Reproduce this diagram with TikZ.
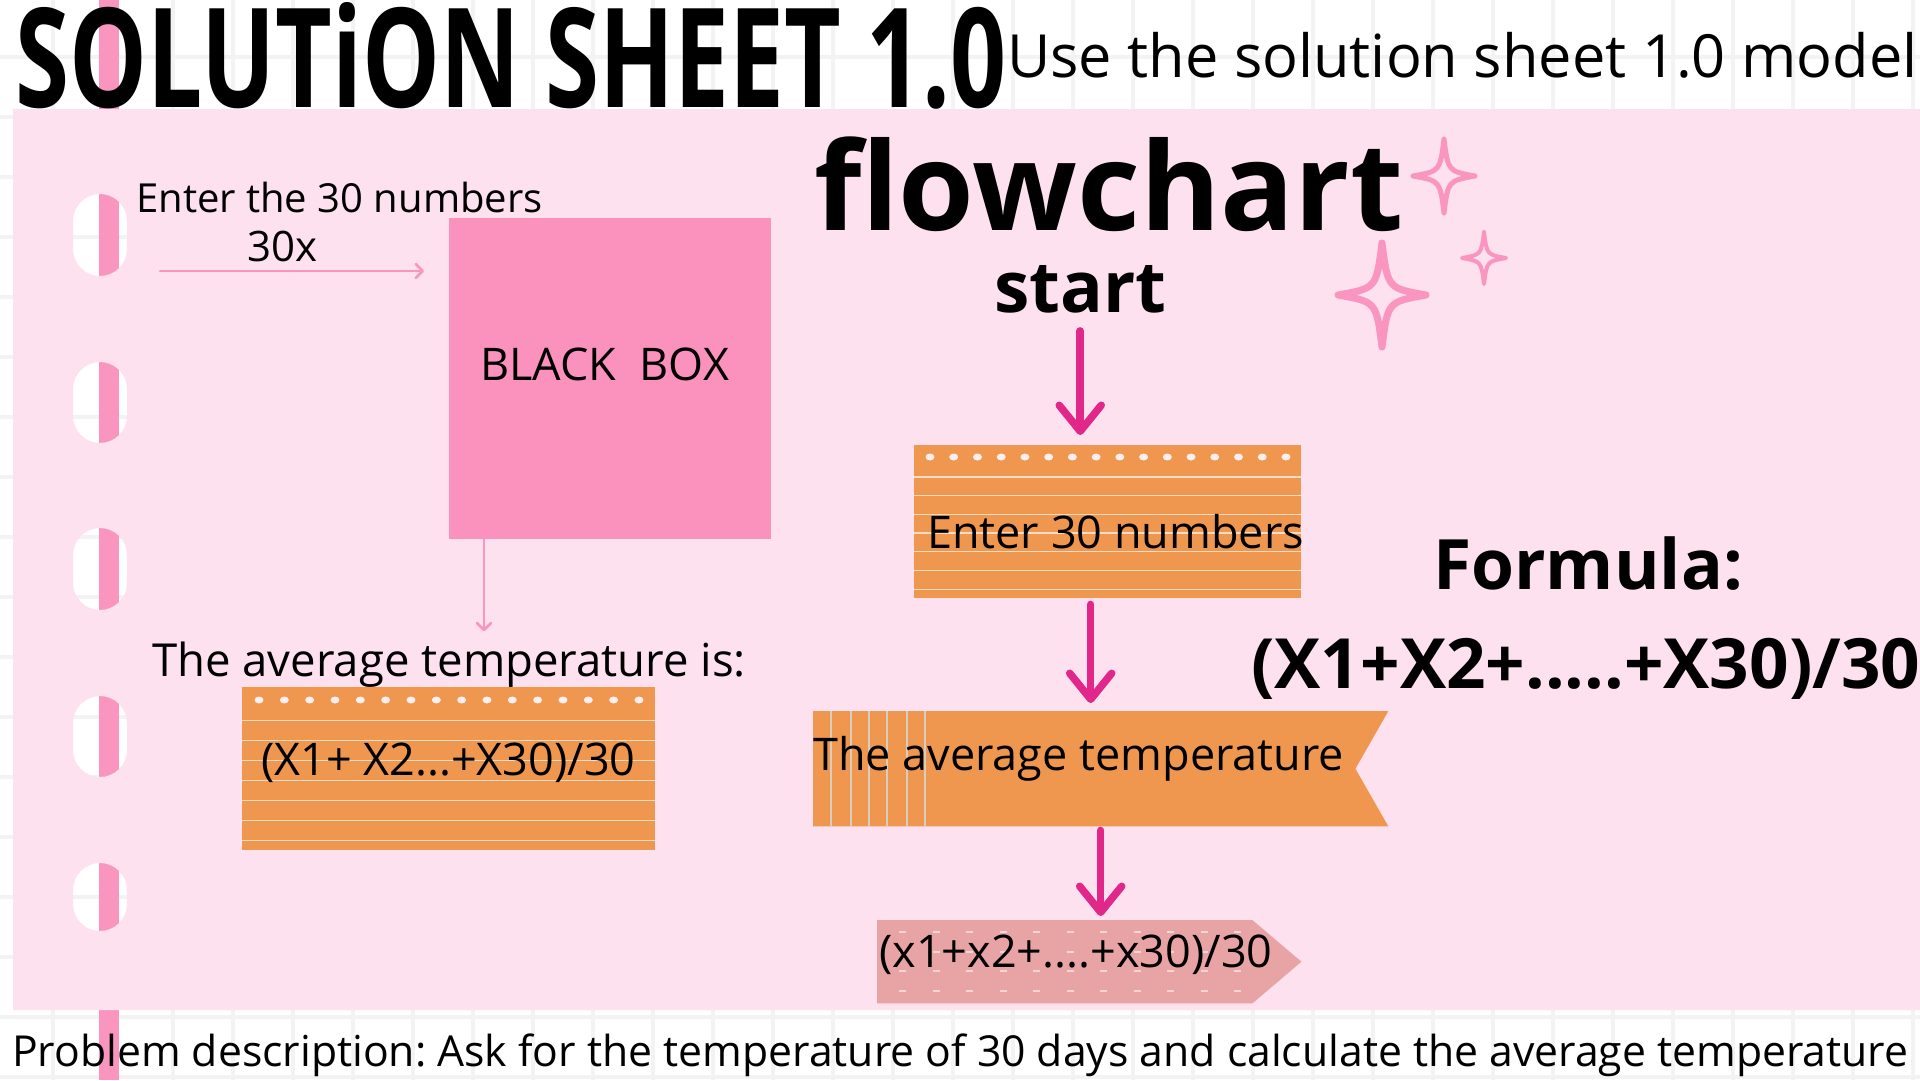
\documentclass[tikz,border=0pt]{standalone}
\usepackage{fontspec}
\setmainfont{Open Sans}
\usepackage{graphicx}
\usetikzlibrary{arrows.meta,calc}
\frenchspacing
\definecolor{panelpink}{HTML}{FDE1EE}
\definecolor{stripepink}{HTML}{F995BF}
\definecolor{boxpink}{HTML}{FB91BD}
\definecolor{cardorange}{HTML}{F0974F}
\definecolor{linecream}{HTML}{FBDCC4}
\definecolor{dotwhite}{HTML}{FDEEF2}
\definecolor{arrowmag}{HTML}{E2278B}
\definecolor{sumpink}{HTML}{E8A4A4}
\definecolor{gridgrey}{HTML}{F3F3F3}
\definecolor{vlinecol}{HTML}{D9CDBE}
\newcommand\sparkle[5]{%
  \draw[draw=stripepink, line width=#5, line join=round, line cap=round]
   (#1,#2-#4) .. controls (#1+0.13*#3,#2-0.13*#4) .. (#1+#3,#2)
   .. controls (#1+0.13*#3,#2+0.13*#4) .. (#1,#2+#4)
   .. controls (#1-0.13*#3,#2+0.13*#4) .. (#1-#3,#2)
   .. controls (#1-0.13*#3,#2-0.13*#4) .. (#1,#2-#4);}
\begin{document}
\begin{tikzpicture}[x=1pt,y=-1pt,
  txt/.style={inner sep=0pt, anchor=base west, text=black},
  card/.style={fill=cardorange, inner sep=0pt, anchor=north west},
  thinarrow/.style={draw=stripepink, line width=2.5pt, line cap=round, -{Straight Barb[round,length=7pt,width=14pt]}},
  flowarrow/.style={draw=arrowmag, line width=7.5pt, line cap=round, -{Straight Barb[round,length=26pt,width=42pt]}},
  cardline/.style={draw=linecream, line width=1.3pt},
  regular/.style={font=\fontsize{45}{50}\selectfont},
]
\useasboundingbox (0,0) rectangle (1920,1080);
\fill[white] (0,0) rectangle (1920,1080);
% grid
\foreach \x in {53,113,...,1913} \draw[gridgrey, line width=4pt] (\x,0) -- (\x,1080);
\foreach \y in {57,117,...,1077} \draw[gridgrey, line width=4pt] (0,\y) -- (1920,\y);
% binder stripe
\fill[stripepink] (99,0) rectangle (119,1080);
% panel with holes
\fill[panelpink, even odd rule] (13,109) rectangle (1920,1010)
  [rounded corners=27pt] (73,194) rectangle (127,276) (73,362) rectangle (127,443)
  (73,528) rectangle (127,610) (73,696) rectangle (127,777) (73,863) rectangle (127,931);
% title
\node[inner sep=0pt, anchor=north west] (title) at (15,2) {\resizebox{991pt}{105pt}{\bfseries SOLUTiON SHEET 1.0}};
\node[txt] (model) at (1007,77) {\fontsize{59.5}{60}\selectfont Use the solution sheet 1.0 model};
% sparkles
\sparkle{1444}{176}{31}{37}{5pt}
\sparkle{1484}{258}{22}{26}{4pt}
\sparkle{1382}{295}{44}{52}{7pt}
% left side: black box model
\node[txt, font=\fontsize{40}{44}\selectfont] (enterlbl) at (136,212) {Enter the 30 numbers};
\node[txt, font=\fontsize{42}{44}\selectfont] (thirty) at (247,261) {30x};
\node[fill=boxpink, inner sep=0pt, minimum width=322pt, minimum height=321pt, anchor=north west] (bb) at (449,218) {};
\node[txt, regular] (bbtxt) at (480,380) {BLACK\ \ BOX};
\coordinate (inA) at (160,271);
\draw[thinarrow, shorten >=25pt] (inA) -- (inA -| bb.west);
\node[txt, font=\fontsize{45.5}{50}\selectfont] (avg) at (152,676) {The average temperature is:};
\coordinate (outx) at (484,0);
\draw[thinarrow, shorten >=10pt] (bb.south -| outx) -- (avg.north -| outx);
% result card
\node[card, minimum width=413pt, minimum height=163pt] (res) at (242,687) {};
\foreach \i in {0,...,15} \fill[dotwhite] ({259+25.33*\i},700) ellipse [x radius=4.5pt, y radius=3.5pt];
\foreach \i in {0,...,6} \draw[cardline] (242,{720.7+20*\i}) -- (655,{720.7+20*\i});
\node[txt, regular] (restxt) at (261,775) {(X1+ X2...+X30)/30};
% flowchart
\node[txt, font=\fontsize{122.5}{124}\selectfont\bfseries] (fc) at (814,230) {flowchart};
\node[txt, font=\fontsize{71}{71}\selectfont\bfseries] (start) at (994,312) {start};
\node[card, minimum width=387pt, minimum height=153pt] (enter) at (914,445) {};
\foreach \i in {0,...,15} \fill[dotwhite] ({930+23.73*\i},457) ellipse [x radius=4.5pt, y radius=3.5pt];
\foreach \i in {0,...,6} \draw[cardline] (914,{477+18.7*\i}) -- (1301,{477+18.7*\i});
\node[txt, regular] (entertxt) at (927,548) {Enter 30 numbers};
% banner
\node[inner sep=0pt, minimum width=575pt, minimum height=115pt, anchor=north west] (ban) at (813,711) {};
\fill[cardorange] (ban.north west) -- (ban.north east) -- ($(ban.east)+(-33,0)$) -- (ban.south east) -- (ban.south west) -- cycle;
\foreach \x in {831,851,869,887,907,925} \draw[vlinecol, line width=1.5pt] (\x,711) -- (\x,826);
\node[txt, regular] (bantxt) at (813,770) {The average temperature};
% sum box
\node[inner sep=0pt, minimum width=424pt, minimum height=83pt, anchor=north west] (sum) at (877,920) {};
\fill[sumpink] (sum.north west) -- ($(sum.north east)+(-49,0)$) -- (sum.east) -- ($(sum.south east)+(-49,0)$) -- (sum.south west) -- cycle;
\foreach \y in {932,952,971,991} \foreach \i in {0,...,10} \draw[white, opacity=0.55, line width=1.5pt] ({899+33.5*\i},\y) -- ({906+33.5*\i},\y);
\node[txt, regular] (sumtxt) at (879,967) {(x1+x2+....+x30)/30};
% flow arrows
\draw[flowarrow, shorten <=18pt, shorten >=10pt] (start.south) -- (start.south |- enter.north);
\draw[flowarrow, shorten <=6pt, shorten >=8pt] ([xshift=-17pt]enter.south) -- ([xshift=-17pt]enter.south |- ban.north);
\draw[flowarrow, shorten <=4pt, shorten >=4pt] (ban.south) -- (ban.south |- sum.north);
% formula
\node[txt, font=\fontsize{69.5}{70}\selectfont\bfseries] (formula) at (1433,589) {Formula:};
\node[txt, font=\fontsize{69.3}{70}\selectfont\bfseries] (formula2) at (1251,688) {(X1+X2+.....+X30)/30};
% problem
\node[txt, font=\fontsize{42.7}{48}\selectfont] (prob) at (12,1066) {Problem description: Ask for the temperature of 30 days and calculate the average temperature};
\end{tikzpicture}
\end{document}
